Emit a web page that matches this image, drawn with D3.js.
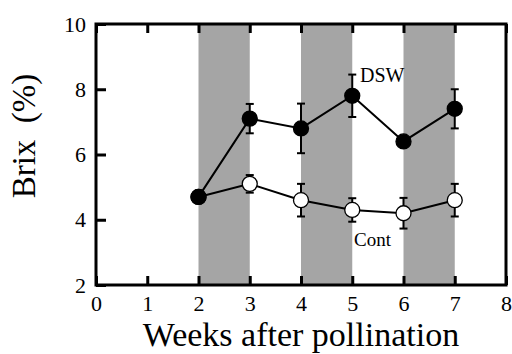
<!DOCTYPE html>
<html>
<head>
<meta charset="utf-8">
<script src="https://cdn.jsdelivr.net/npm/d3@7"></script>
<style>
  body { margin: 0; background: #fff; }
</style>
</head>
<body>
<div class="chart"></div>
<script>
var weeks = [2, 3, 4, 5, 6, 7]
var dswMean = [4.7, 7.1, 6.8, 7.8, 6.4, 7.4]
var dswErr = [0, 0.45, 0.76, 0.65, 0, 0.6]
var contMean = [4.7, 5.1, 4.6, 4.3, 4.2, 4.6]
var contErr = [0, 0.27, 0.5, 0.36, 0.47, 0.5]
var bands = [[2, 3], [4, 5], [6, 7]]
var xTicks = [0, 1, 2, 3, 4, 5, 6, 7, 8]
var yTicks = [2, 4, 6, 8, 10]

var serif = "Liberation Serif"

var svg = d3.select(".chart").append("svg").attr("width", 512).attr("height", 354)

var x = d3.scaleLinear().domain([0, 8]).range([96, 506])
var y = d3.scaleLinear().domain([2, 10]).range([285, 24])

// shaded periods
svg.selectAll(".band")
  .data(bands)
  .enter()
  .append("rect")
  .attr("x", d => x(d[0]))
  .attr("y", y(10))
  .attr("width", d => x(d[1]) - x(d[0]))
  .attr("height", y(2) - y(10))
  .attr("fill", "#a5a5a5")

// axes with inward ticks
var xAxis = svg.append("g").attr("transform", "translate(0," + y(2) + ")")
  .call(d3.axisBottom(x).tickValues(xTicks).tickSize(-9).tickPadding(10).tickFormat(d3.format("d")))
var xTop = svg.append("g").attr("transform", "translate(0," + y(10) + ")")
  .call(d3.axisTop(x).tickValues(xTicks).tickSize(-9).tickFormat(""))
var yAxis = svg.append("g").attr("transform", "translate(" + x(0) + ",0)")
  .call(d3.axisLeft(y).tickValues(yTicks).tickSize(-10).tickPadding(10).tickFormat(d3.format("d")))

svg.selectAll(".domain").remove()
svg.selectAll("g").attr("font-family", serif)
svg.selectAll(".tick line").attr("stroke", "#000").attr("stroke-width", 3)
svg.selectAll(".tick text").style("font-size", "22px").style("font-family", serif).attr("fill", "#000")
xAxis.selectAll(".tick text").attr("dy", "0.71em")

// frame
svg.append("rect")
  .attr("x", x(0)).attr("y", y(10))
  .attr("width", x(8) - x(0)).attr("height", y(2) - y(10))
  .attr("fill", "none").attr("stroke", "#000").attr("stroke-width", 3)

var line = d3.line().x(d => x(d.w)).y(d => y(d.m))

function drawSeries(means, errs, fill) {
  var pts = weeks.map((w, i) => ({ w: w, m: means[i], e: errs[i] }))
  svg.append("path").datum(pts).attr("d", line)
    .attr("fill", "none").attr("stroke", "#000").attr("stroke-width", 2)
  var eb = svg.append("g").selectAll("g").data(pts.filter(d => d.e > 0)).enter().append("g")
  eb.append("line")
    .attr("x1", d => x(d.w)).attr("x2", d => x(d.w))
    .attr("y1", d => y(d.m + d.e)).attr("y2", d => y(d.m - d.e))
    .attr("stroke", "#000").attr("stroke-width", 2)
  eb.append("line")
    .attr("x1", d => x(d.w) - 4).attr("x2", d => x(d.w) + 4)
    .attr("y1", d => y(d.m + d.e)).attr("y2", d => y(d.m + d.e))
    .attr("stroke", "#000").attr("stroke-width", 2)
  eb.append("line")
    .attr("x1", d => x(d.w) - 4).attr("x2", d => x(d.w) + 4)
    .attr("y1", d => y(d.m - d.e)).attr("y2", d => y(d.m - d.e))
    .attr("stroke", "#000").attr("stroke-width", 2)
  svg.append("g").selectAll("circle").data(pts).enter().append("circle")
    .attr("cx", d => x(d.w)).attr("cy", d => y(d.m)).attr("r", 7.5)
    .attr("fill", fill).attr("stroke", "#000").attr("stroke-width", 1.3)
}

drawSeries(contMean, contErr, "#fff")
drawSeries(dswMean, dswErr, "#000")

svg.append("text").attr("x", 360).attr("y", 82).text("DSW")
  .style("font-size", "20px").style("font-family", serif)
svg.append("text").attr("x", 354).attr("y", 246).text("Cont")
  .style("font-size", "19px").style("font-family", serif)

svg.append("text").attr("x", 301).attr("y", 346).attr("text-anchor", "middle")
  .text("Weeks after pollination").style("font-size", "34px").style("font-family", serif)

svg.append("text").attr("transform", "translate(35,136) rotate(-90)").attr("text-anchor", "middle")
  .style("white-space", "pre").style("font-size", "33px").style("font-family", serif)
  .text("Brix  (%)")
</script>
</body>
</html>
